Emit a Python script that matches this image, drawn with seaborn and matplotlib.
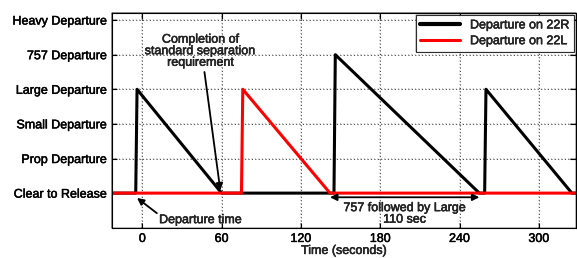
import pandas as pd
import seaborn as sns
import matplotlib.pyplot as plt
import matplotlib.patheffects as pe

# departure state levels
levels = ["Clear to Release", "Prop Departure", "Small Departure",
          "Large Departure", "757 Departure", "Heavy Departure"]

# runway 22R (black) and 22L (red) traces
t_22r = [-23, -5, -4, 60, 145, 146, 255, 259, 260, 325, 328]
y_22r = [0, 0, 3, 0, 0, 4, 0, 0, 3, 0, 0]
t_22l = [-23, 75, 76, 142, 328]
y_22l = [0, 0, 3, 0, 0]

xticks = [0, 60, 120, 180, 240, 300]

sns.set_style("ticks")
plt.rcParams["font.family"] = ["Liberation Sans", "DejaVu Sans"]
plt.rcParams["path.effects"] = [pe.withStroke(linewidth=0.35, foreground="black")]

df = pd.concat([
    pd.DataFrame({"t": t_22r, "y": y_22r, "run": "Departure on 22R"}),
    pd.DataFrame({"t": t_22l, "y": y_22l, "run": "Departure on 22L"}),
])

fig = plt.figure(figsize=(5.77, 2.58), dpi=100)
ax = fig.add_axes([0.194, 0.116, 0.804, 0.833])

sns.lineplot(data=df, x="t", y="y", hue="run", estimator=None, sort=False,
             palette={"Departure on 22R": "black", "Departure on 22L": "red"},
             lw=2.2, ax=ax)

ax.set_xlim(-23, 328)
ax.set_ylim(-1.01, 5.2)
ax.set_xticks(xticks)
ax.set_yticks(range(len(levels)))
ax.set_yticklabels(levels)
ax.tick_params(direction="in", top=True, right=True, length=4, labelsize=9, colors="black")
ax.grid(True, linestyle=(0, (1, 2.5)), color="#444444", lw=0.7)
for s in ax.spines.values():
    s.set_visible(True)
    s.set_color("black")
    s.set_linewidth(0.8)
ax.set_xlabel("Time (seconds)", fontsize=9, labelpad=0)
ax.set_ylabel("")

leg = ax.legend(loc="upper right", fontsize=9, frameon=True, fancybox=False,
                edgecolor="black", handlelength=3.2, borderaxespad=0.15,
                labelspacing=0.3, borderpad=0.35)
leg.get_frame().set_linewidth(0.8)
leg.get_lines()[0].set_linewidth(3)
leg.get_lines()[1].set_linewidth(2.2)

arrow = dict(arrowstyle="-|>", color="black", lw=1.3, shrinkA=0, shrinkB=0,
             mutation_scale=10, path_effects=[])

ax.text(44, 4.1, "Completion of\nstandard separation\nrequirement",
        ha="center", va="center", fontsize=9, linespacing=0.95)
ax.annotate("", xy=(59, 0.08), xytext=(47, 3.5), arrowprops=arrow)

ax.text(44, -0.78, "Departure time", ha="center", va="center", fontsize=9)
ax.annotate("", xy=(-4, -0.14), xytext=(11, -0.58), arrowprops=arrow)

ax.annotate("", xy=(142, -0.12), xytext=(255, -0.12),
            arrowprops=dict(arrow, arrowstyle="<|-|>"))
ax.text(198.5, -0.6, "757 followed by Large\n110 sec", ha="center", va="center",
        fontsize=9, linespacing=0.95)

fig.savefig("out.png", dpi=100)
